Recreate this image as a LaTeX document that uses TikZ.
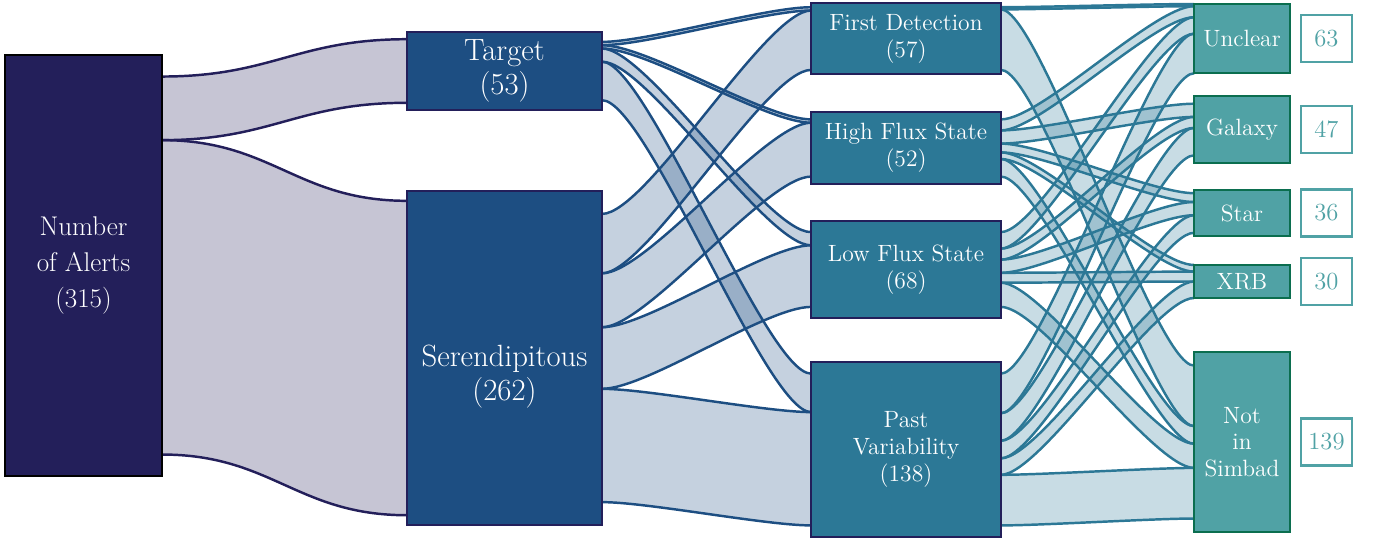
\documentclass[tikz,border=0pt]{standalone}
\usepackage{fontspec}
\usetikzlibrary{calc,positioning,backgrounds}

\definecolor{alertcol}{HTML}{231F5A}
\definecolor{origcol}{HTML}{1D4E82}
\definecolor{statecol}{HTML}{2C7896}
\definecolor{classcol}{HTML}{50A2A5}
\definecolor{classline}{HTML}{0B6E4F}

\newcommand{\flowbend}{100}
% band from #1 (offsets #2,#3 below its top) to #4 (offsets #5,#6), colour #7
\newcommand{\flowband}[7]{%
  \fill[#7, fill opacity=.26] ($(#1.north east)+(0,#2)$) .. controls +(\flowbend,0) and +(-\flowbend,0) .. ($(#4.north west)+(0,#5)$)
    -- ($(#4.north west)+(0,#6)$) .. controls +(-\flowbend,0) and +(\flowbend,0) .. ($(#1.north east)+(0,#3)$) -- cycle;
  \draw[#7, line width=1.4pt] ($(#1.north east)+(0,#2)$) .. controls +(\flowbend,0) and +(-\flowbend,0) .. ($(#4.north west)+(0,#5)$);
  \draw[#7, line width=1.4pt] ($(#1.north east)+(0,#3)$) .. controls +(\flowbend,0) and +(-\flowbend,0) .. ($(#4.north west)+(0,#6)$);
}

\begin{document}
\begin{tikzpicture}[x=0.02cm, y=-0.02cm]
\tikzset{box/.style={draw, rectangle, line width=1.5pt, outer sep=0pt, text=white, align=center}}
\tikzset{origbox/.style={box, fill=origcol, draw=alertcol, minimum width=3.9cm, font=\fontsize{17.5}{19.5}\selectfont}}
\tikzset{statebox/.style={box, fill=statecol, draw=alertcol, minimum width=3.8cm, font=\fontsize{13.4}{15.4}\selectfont}}
\tikzset{classbox/.style={box, fill=classcol, draw=classline, minimum width=1.92cm, font=\fontsize{13.4}{15.2}\selectfont}}
\tikzset{countbox/.style={box, fill=white, draw=classcol, text=classcol, minimum width=1.02cm, minimum height=.94cm, font=\fontsize{14}{16}\selectfont}}

\useasboundingbox (0,0) rectangle (1373,540);

% Alerts
\node[box, fill=alertcol, draw=black, minimum width=3.14cm, minimum height=8.42cm,
 font=\fontsize{15.4}{20.6}\selectfont] (alerts) at (83.5,265.5) {Number\\of Alerts\\(315)};

% Origin
\node[origbox, minimum height=1.56cm] (target) at (504.5,71) {Target\\(53)};
\node[origbox, minimum height=6.68cm] (seren) at (504.5,358) {\\[14pt]Serendipitous\\(262)};

% Detection state
\node[statebox, minimum height=1.42cm] (first) at (906,38.5) {First Detection\\(57)};
\node[statebox, minimum height=1.44cm] (high) at (906,148) {High Flux State\\(52)};
\node[statebox, minimum height=1.94cm] (low) at (906,269.5) {Low Flux State\\(68)};
\node[statebox, minimum height=3.5cm] (past) at (906,449.5) {Past\\Variability\\(138)};

% Classification
\node[classbox, minimum height=1.38cm] (unclear) at (1242,38.5) {Unclear};
\node[classbox, minimum height=1.34cm] (galaxy) at (1242,129.5) {Galaxy};
\node[classbox, minimum height=.92cm] (star) at (1242,213) {Star};
\node[classbox, minimum height=.66cm] (xrb) at (1242,281.5) {XRB};
\node[classbox, minimum height=3.6cm] (notsimbad) at (1242,442) {Not\\in\\Simbad};

% Counts
\node[countbox, right=.22cm of unclear] (nunclear) {63};
\node[countbox, right=.22cm of galaxy] (ngalaxy) {47};
\node[countbox, right=.22cm of star] (nstar) {36};
\node[countbox, right=.22cm of xrb] (nxrb) {30};
\node[countbox, right=.22cm of notsimbad] (nnotsimbad) {139};

% Flows
\begin{scope}[on background layer]
\renewcommand{\flowbend}{110}
\flowband{alerts}{21.5}{85.1}{target}{7.2}{70.8}{alertcol}
\flowband{alerts}{85.1}{399.5}{seren}{9.8}{324.2}{alertcol}

\renewcommand{\flowbend}{45}
\flowband{target}{9.9}{13.2}{first}{4.2}{7.5}{origcol}
\flowband{target}{13.2}{16.5}{high}{7.4}{10.7}{origcol}
\flowband{target}{16.5}{29.7}{low}{11.1}{24.3}{origcol}
\flowband{target}{29.7}{68.2}{past}{11.6}{50.1}{origcol}
\flowband{seren}{22.9}{82.3}{first}{7.5}{66.9}{origcol}
\flowband{seren}{82.3}{136.2}{high}{10.7}{64.6}{origcol}
\flowband{seren}{136.2}{197.8}{low}{24.3}{85.9}{origcol}
\flowband{seren}{197.8}{311.1}{past}{50.1}{163.4}{origcol}

\renewcommand{\flowbend}{40}
\flowband{first}{4.2}{6.4}{unclear}{0}{2.2}{statecol}
\flowband{first}{6.4}{66.9}{notsimbad}{13.6}{74.1}{statecol}
\flowband{high}{7.4}{18.4}{unclear}{2.2}{13.2}{statecol}
\flowband{high}{18.4}{31.6}{galaxy}{7.7}{20.9}{statecol}
\flowband{high}{31.6}{40.4}{star}{3.2}{12}{statecol}
\flowband{high}{40.4}{47}{xrb}{0}{6.6}{statecol}
\flowband{high}{47}{64.6}{notsimbad}{74.1}{91.7}{statecol}
\flowband{low}{11.1}{27.6}{unclear}{13.2}{29.7}{statecol}
\flowband{low}{27.6}{38.6}{galaxy}{20.9}{31.9}{statecol}
\flowband{low}{38.6}{51.8}{star}{12}{25.2}{statecol}
\flowband{low}{51.8}{61.7}{xrb}{6.6}{16.5}{statecol}
\flowband{low}{61.7}{85.9}{notsimbad}{91.7}{115.9}{statecol}
\flowband{past}{11.6}{51.2}{unclear}{29.7}{69.3}{statecol}
\flowband{past}{51.2}{78.7}{galaxy}{31.9}{59.4}{statecol}
\flowband{past}{78.7}{96.3}{star}{25.2}{42.8}{statecol}
\flowband{past}{96.3}{112.8}{xrb}{16.5}{33}{statecol}
\flowband{past}{112.8}{163.4}{notsimbad}{115.9}{166.5}{statecol}
\end{scope}

\end{tikzpicture}
\end{document}
